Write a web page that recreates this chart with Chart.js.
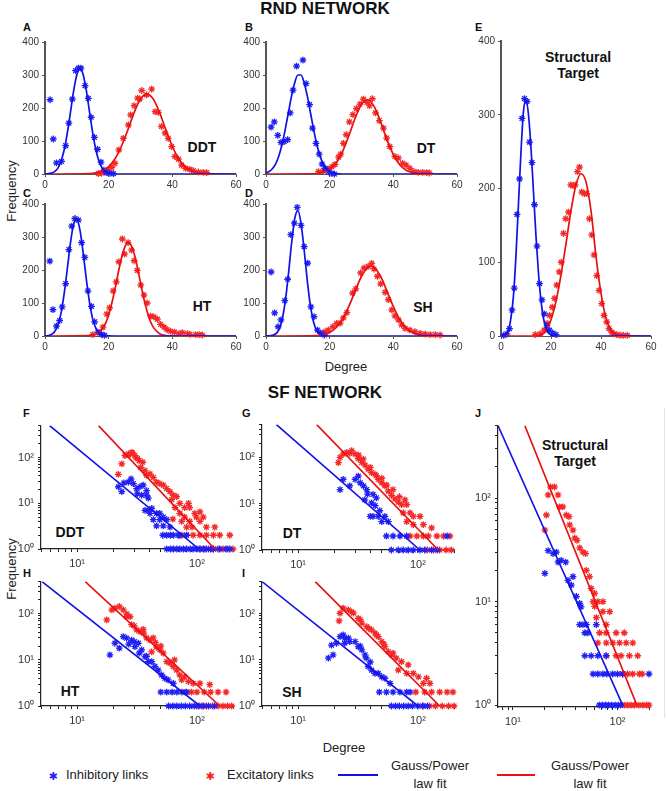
<!DOCTYPE html>
<html>
<head>
<meta charset="utf-8">
<script src="https://cdn.jsdelivr.net/npm/chart.js@4.4.1/dist/chart.umd.min.js"></script>
<style>
  body { margin: 0; background: #fff; width: 666px; height: 791px; position: relative; overflow: hidden;
         font-family: "Liberation Sans", Arial, sans-serif; color: #1a1a1a; }
  canvas { position: absolute; }
  .c { position: absolute; transform: translate(-50%, -50%); white-space: nowrap; }
  .l { position: absolute; transform: translate(0, -50%); white-space: nowrap; }
  .ttl { font-weight: bold; font-size: 17px; color: #111; }
  .let { font-weight: bold; font-size: 11px; color: #111; }
  .tag { font-weight: bold; font-size: 14px; color: #111; text-align: center; line-height: 16px; }
  .ax { font-size: 13px; color: #222; }
  .lg { font-size: 13px; color: #222; text-align: center; line-height: 18px; }
</style>
</head>
<body>
<div class="c ttl" style="left:325px;top:9px">RND NETWORK</div>
<div class="c ttl" style="left:325px;top:393px">SF NETWORK</div>

<div class="l let" style="left:23px;top:27px">A</div>
<div class="l let" style="left:245px;top:27px">B</div>
<div class="l let" style="left:23px;top:193px">C</div>
<div class="l let" style="left:245px;top:193px">D</div>
<div class="l let" style="left:475px;top:27px">E</div>
<div class="l let" style="left:23px;top:413px">F</div>
<div class="l let" style="left:242px;top:413px">G</div>
<div class="l let" style="left:23px;top:573px">H</div>
<div class="l let" style="left:242px;top:573px">I</div>
<div class="l let" style="left:475px;top:413px">J</div>

<div class="c tag" style="left:202px;top:147px">DDT</div>
<div class="c tag" style="left:426px;top:148px">DT</div>
<div class="c tag" style="left:202px;top:306px">HT</div>
<div class="c tag" style="left:423px;top:307px">SH</div>
<div class="c tag" style="left:578px;top:65px">Structural<br>Target</div>
<div class="c tag" style="left:70px;top:532px">DDT</div>
<div class="c tag" style="left:292px;top:533px">DT</div>
<div class="c tag" style="left:70px;top:691px">HT</div>
<div class="c tag" style="left:292px;top:692px">SH</div>
<div class="c tag" style="left:575px;top:453px">Structural<br>Target</div>

<div class="c ax" style="left:11px;top:191px;transform:translate(-50%,-50%) rotate(-90deg)">Frequency</div>
<div class="c ax" style="left:11px;top:569px;transform:translate(-50%,-50%) rotate(-90deg)">Frequency</div>
<div class="c ax" style="left:346px;top:366px">Degree</div>
<div class="c ax" style="left:344px;top:747px">Degree</div>

<div style="position:absolute;left:664px;top:408px;width:1px;height:310px;background:#e2e2e2"></div>

<div class="c" style="left:53px;top:776px;color:#1f1ff5;font-family:'DejaVu Sans';font-size:11px">&#10033;</div>
<div class="l lg" style="left:66px;top:775px">Inhibitory links</div>
<div class="c" style="left:210px;top:776px;color:#f52020;font-family:'DejaVu Sans';font-size:11px">&#10033;</div>
<div class="l lg" style="left:227px;top:775px">Excitatory links</div>
<div style="position:absolute;left:338px;top:774px;width:40px;height:2px;background:#1010e8"></div>
<div class="c lg" style="left:430px;top:775px">Gauss/Power<br>law fit</div>
<div style="position:absolute;left:497px;top:774px;width:38px;height:2px;background:#e81010"></div>
<div class="c lg" style="left:590px;top:775px">Gauss/Power<br>law fit</div>

<script>
// ---- tick values ----
const degTicks = [0, 20, 40, 60];
const freqTicks = [0, 100, 200, 300, 400];
const logTicks = [1, 2, 3, 4, 5, 6, 7, 8, 9, 10, 20, 30, 40, 50, 60, 70, 80, 90, 100, 200, 300, 400, 500];
const decade = { 1: '10\u2070', 10: '10\u00b9', 100: '10\u00b2' };

// ---- RND network: degree histograms [degree, frequency] ----
const aInh = [[1.6,225],[2.6,106],[3.6,34],[5.2,38],[6.5,86],[7.5,154],[8.6,227],[9.6,313],[10.5,321],[11.3,321],[12.6,268],[13.6,229],[14.5,172],[15.5,111],[16.5,75],[17.6,36],[18.5,12],[19.4,4],[20.4,2],[21.5,1]];
const aExc = [[16.8,1],[17.8,3],[18.8,6],[19.9,12],[21,20],[22,32],[23.2,73],[24.6,108],[26.2,149],[26.9,179],[28,207],[29.1,230],[29.8,227],[30.4,253],[31.9,240],[33.5,257],[34.6,189],[35.6,187],[36.6,144],[37.7,124],[38.7,108],[39.8,83],[40.8,53],[41.9,45],[42.9,27],[44.2,17],[45.5,14],[46.6,10],[48.2,6],[49.7,5],[50.8,4]];
const bInh = [[1.6,142],[2.6,158],[3.7,117],[4.7,96],[5.7,98],[6.8,104],[7.6,185],[8.5,254],[9.6,327],[11.6,345],[12.6,274],[13.7,210],[14.6,139],[15.7,93],[16.7,60],[17.6,30],[18.6,17],[19.6,7],[20.5,2],[21.5,0]];
const bExc = [[16.5,7],[18.1,10],[19.6,15],[20.7,22],[21.7,29],[22.8,51],[23.5,60],[24.3,93],[25.2,119],[26.2,158],[27.3,180],[28.4,198],[29.5,212],[30.6,227],[31.7,217],[32.5,207],[33.4,228],[34.4,185],[35.6,162],[36.9,139],[37.9,109],[38.9,83],[40.5,53],[41.6,48],[42.9,32],[44,27],[45.2,17],[46.5,7],[47.8,5],[49.2,5],[50.4,4],[51.3,3]];
const cInh = [[1.5,227],[2.5,80],[3.6,30],[4.6,47],[5.4,88],[6.5,159],[7.5,262],[8.4,333],[9.4,356],[10.5,351],[11.5,283],[12.5,238],[13.5,137],[14.6,90],[15.6,43],[16.6,12],[17.7,5],[18.7,2]];
const cExc = [[15,4],[17,10],[18.2,27],[19.4,66],[20.3,85],[21.4,137],[22.4,164],[23.2,225],[24.3,294],[25,248],[26.1,283],[27.2,260],[28,228],[29,199],[30.1,154],[31.1,124],[32.1,100],[33.2,60],[34.2,58],[35.3,51],[36.3,35],[37.4,27],[38.4,19],[39.5,14],[40.7,12],[42.1,7],[43.1,10],[44.7,7],[45.5,5],[47.3,4],[48.4,4],[49.4,3]];
const dInh = [[1.6,194],[2.7,70],[3.8,28],[4.7,49],[5.9,107],[6.8,172],[7.8,307],[8.9,342],[9.8,390],[11,335],[12,271],[13.1,221],[14.1,88],[15.1,59],[16.2,18],[17.2,8],[18.3,3]];
const dExc = [[17.6,8],[18.6,13],[19.6,18],[21,28],[22.2,38],[23.3,39],[24.3,55],[25.4,71],[27.2,130],[28.2,143],[29.7,191],[30.8,206],[32.1,211],[33.2,220],[33.9,203],[35,181],[36,158],[37.4,132],[38.4,110],[39.5,79],[40.5,61],[41.6,49],[42.6,34],[43.7,23],[45.2,18],[46.8,13],[48.4,8],[50,6],[51.6,4],[53.2,4],[54.7,3]];
const eInh = [[1.1,1],[2.4,3],[3.4,10],[4.4,35],[5.3,65],[6.4,165],[7.4,213],[8.4,295],[9.4,322],[10.4,318],[11.4,263],[12.4,235],[13.4,178],[14.4,122],[15.4,71],[16.4,49],[17.3,30],[18.4,14],[19.4,8],[20.7,4],[22,2]];
const eExc = [[13.7,2],[15.7,3],[17.3,8],[18.4,17],[19.4,28],[20.5,39],[21.4,51],[22.3,69],[23.3,87],[24.1,100],[25,139],[25.9,159],[27,168],[27.9,205],[28.8,204],[29.7,205],[30.6,223],[31.4,229],[32.3,195],[33.4,193],[34.3,193],[35.4,159],[36.3,137],[37.2,110],[38.3,82],[39.2,62],[40.3,44],[41.2,28],[42.3,19],[43.2,10],[44.3,5],[45.2,3],[46.3,2],[47.6,1],[48.9,1],[50.5,1]];

// ---- RND network: Gaussian fit curves ----
const aInhFitX = [0,1,2,3,4,5,6,7,8,9,10,11,12,13,14,15,16,17,18,19,20,21,22,60];
const aInhFitY = [0,0.8,2.6,7,17,38,72,124,187,252,301,320,301,252,187,124,72,38,17,7,2.6,0.8,0,0];
const aExcFitX = [0,14,16,18,20,22,24,26,28,30,32,34,36,38,40,42,44,46,48,50,52,60];
const aExcFitY = [0,1.1,3.5,9.5,22,46,84,133,186,227,242,227,186,133,84,46,22,9.5,3.5,1.1,0.3,0];
const bInhFitX = [0,1,2,3,4,5,6,7,8,9,10,11,12,13,14,15,16,17,18,19,20,21,22,23,24,60];
const bInhFitY = [3.4,7.6,16,30,54,88,133,184,235,276,300,300,276,235,184,133,88,54,30,16,7.6,3.4,1.3,0.5,0,0];
const bExcFitX = [0,14,16,18,20,22,24,26,28,30,32,34,36,38,40,42,44,46,48,50,52,60];
const bExcFitY = [0,0.4,1.5,5,14,33,67,115,169,211,225,204,158,104,59,28,11.5,4,1.2,0.3,0,0];
const cInhFitX = [0,1,2,3,4,5,6,7,8,9,10,11,12,13,14,15,16,17,18,19,20,22,60];
const cInhFitY = [0.4,1.4,4.6,13,32,68,127,203,282,339,354,320,251,171,101,51,23,9,3,1,0.3,0,0];
const cExcFitX = [0,14,16,18,19,20,21,22,23,24,25,26,27,28,29,30,31,32,33,34,36,38,40,42,60];
const cExcFitY = [0,0.9,5,21,38,64,100,143,191,235,268,283,276,250,209,162,116,77,47,27,7,1.3,0.2,0,0];
const dInhFitX = [0,1,2,3,4,5,6,7,8,9,10,11,12,13,14,15,16,17,18,20,60];
const dInhFitY = [0.1,0.4,1.7,6,18,47,101,183,278,354,380,342,259,165,88,40,15,5,1.3,0,0];
const dExcFitX = [0,16,18,20,22,24,26,28,30,32,33,34,36,38,40,42,44,46,48,50,52,54,60];
const dExcFitY = [0,1.2,3.9,10.5,25,50,89,136,181,208,212,208,181,136,89,50,25,10.5,3.9,1.2,0.3,0,0];
const eInhFitX = [0,2,3,4,5,6,7,8,9,10,11,12,13,14,15,16,17,18,19,20,22,60];
const eInhFitY = [0,3,8,25,55,110,180,250,305,320,300,255,195,135,85,48,24,11,4,1.5,0,0];
const eExcFitX = [0,14,16,18,20,22,24,26,28,30,32,34,36,38,40,42,44,46,48,60];
const eExcFitY = [0,0,1.5,7,22,47,83,125,170,205,220,209,170,108,58,24,8,2,0.5,0];

// ---- SF network: degree histograms [degree, frequency] ----
const fInh = [[22.1,23],[23.6,18],[24.6,28],[26.8,29],[28.2,34],[29.5,27],[31.4,21],[31.8,16],[33.5,23],[34.6,15],[35.6,25],[38,19],[38,15],[39.3,13],[36.9,7],[39.3,7],[42,7.7],[40.6,6],[46,6],[49,6],[52.4,5],[43.2,4.4],[49,4.4],[56,4.4],[46,3.2],[52.4,3.2],[59.6,3],
  [52,2],[56,2],[60,2],[63.5,2],[70,2],[72,2],[82,2],
  [56,1],[60,1],[63.5,1],[68,1],[72,1],[77,1],[82,1],[88,1],[93,1],[100,1],[106,1],[113,1],[120,1],[130,1],[137,1],[155,1],[175,1],[188,1]];
const fExc = [[22.1,43],[23.6,73],[25.1,110],[26.8,120],[27,115],[28.6,130],[29,125],[30.4,110],[31,100],[32,95],[33,86],[34,61],[35.3,79],[36.9,52],[38,41],[40.6,44],[43.2,37],[46,29],[49,27],[52.4,25],[55.9,21],[59.6,18],[61.5,12],[63.5,15],[65.6,8],[67.8,14],[72,10],[79,8],[85,10],[87,8],[96,6],[106,6.5],[113,5],[72,6],[79,5],[87,4],[99,5],[74.5,4],[106,4],[141,3],[63,4.5],
  [82,3],[91,3],[120,3],
  [75,2],[82,2],[93,2],[106,2],[120,2],[137,2],[155,2],[188,2],
  [106,1],[115,1],[125,1],[137,1],[150,1],[165,1],[180,1],[200,1]];
const gInh = [[22.4,20],[23.8,33],[27,24],[29.9,33],[31.8,39],[33,28],[35.1,24],[36,12],[37.4,20],[38,16],[41,10.3],[42.2,15.7],[44,9],[45,13.3],[48,7],[40,5.3],[42.2,5.3],[46.7,5.3],[49.9,4.1],[53,5.3],[56.6,4.1],
  [54.6,2],[62,2],[70.8,2],[80.6,2],[175,2],
  [60,1],[68.6,1],[75.4,1],[83,1],[91.5,1],[104,1],[114,1],[130,1],[145,1]];
const gExc = [[21.7,76],[22.4,99],[23.8,116],[25.5,126],[27,120],[28,137],[29.9,116],[31.8,93],[32,110],[34,77],[35,90],[36.2,67],[38.4,55],[40,60],[41,46.5],[43.8,42.7],[45,40],[46.7,33],[49.9,28],[50,35],[53,24],[55,25],[56.6,18.5],[60.3,15],[62,20],[64.4,12.6],[68.6,10.7],[70,14],[73.2,9.5],[78,12],[80.6,9.5],[86,6.3],[75.4,6.3],[91.5,5.3],[104,5.3],[80.6,4.1],[91.5,3.5],[111,3.5],[130,3],
  [86,2],[98,2],[111,2],[122,2],[144,2],[164,2],[185,2],
  [120,1],[135,1],[152,1],[172,1],[190,1]];
const hInh = [[18.8,12.9],[20.7,23],[22.5,18],[24.3,32],[25.9,29.6],[27,22],[28.5,27],[30,25],[30.4,19.4],[32.4,23],[33,14],[34.6,16.5],[36.9,11.8],[38,12],[39.3,9.2],[42,9.2],[44.6,7.2],[47.5,6],[50.8,4.7],[54,4],[57.5,3.7],[63.5,3.1],
  [50,2],[56,2],[62,2],[68,2],[75,2],[82,2],
  [58,1],[63,1],[68,1],[74,1],[80,1],[87,1],[95,1],[104,1],[113,1],[125,1],[140,1]];
const hExc = [[17.7,74],[19.5,122],[20.7,133],[22.5,144],[24.3,122],[25.9,87],[26,100],[27.7,87],[28.5,58],[30,55],[31.4,45],[33.5,41],[35.6,46],[36,38],[38,30],[40.6,27],[43.2,30],[41.9,15],[45,24],[46,19],[49,16.5],[50,20],[52.4,14],[56,9.2],[59.6,8.5],[63.5,7.2],[65,10],[67.8,6],[72,4.7],[79,4.3],[74.6,3.7],[85,3.4],[93,3.1],[106,3.1],[128,2.9],
  [80,2],[90,2],[100,2],[115,2],[130,2],[150,2],[175,2],
  [100,1],[110,1],[120,1],[135,1],[150,1],[165,1],[180,1],[195,1]];
const iInh = [[17.9,10.9],[19.6,12.9],[19,21],[20.9,23],[22.4,32],[23.8,35],[24.5,23],[24.5,29.6],[26.3,29.6],[27,25],[29.9,25],[31.8,19.4],[33,20],[34,16.5],[36.2,12.9],[37,11],[38.4,7.2],[40,9],[41,6],[43.8,5.1],[46.7,5.1],[49.9,4.3],[53,4],[58.6,3.1],
  [47.7,2],[54.6,2],[62,2],[70.8,2],[80.6,2],[86,2],
  [60,1],[65,1],[70,1],[76,1],[83,1],[90,1],[100,1],[110,1],[120,1]];
const iExc = [[22,70],[22.4,103],[23.8,133],[26.3,122],[28,110],[29,104],[31.8,80],[33,75],[34,63],[37.4,53],[39,48],[41,45],[43.8,38],[45,35],[46.7,32],[49.9,25],[52,22],[53,19.4],[56.6,15.2],[60.3,12.9],[62,14],[66,10.9],[73,9.2],[83,7.8],[68.6,6],[80.6,5.1],[91.5,5.1],[101,4.3],[118,4],[126,3.1],[111,3.1],
  [96,2],[114,2],[130,2],[152,2],[175,2],[196,2],
  [110,1],[125,1],[140,1],[160,1],[180,1],[200,1]];
const jInh = [[20.2,18.7],[21.7,31],[24.2,29],[26,30],[27,24],[28.9,25],[32,24],[33.6,16],[37.5,17.4],[36.2,14.4],[40.4,11.2],[43.5,9.6],[44.8,8.9],[43.5,6],[46.7,6],[50.4,6],[48.7,5],[52,5],[62.7,6],[48.7,3],[56,3],[64.8,3],[78,3],
  [58.4,2],[64.8,2],[72.5,2],[79,2],[90,2],[100,2],[112,2],[200,2],
  [67,1],[72,1],[77,1],[82,1],[88,1],[95,1],[102,1],[107,1]];
const jExc = [[20.2,49],[20.9,68.5],[21.7,107],[22.9,128],[25,128],[27,107],[28,82],[30,82],[32.4,68.5],[34.4,66],[34.9,55],[37.5,49],[39,41],[41,39],[43.5,33],[46.7,30],[49.5,29],[50.4,20],[54,17.4],[56,13.4],[60.4,12],[58.4,10],[64.8,10],[72.5,10],[60.4,9],[72.5,8],[84.2,8],[62.7,7],[78,6],[67.4,5],[78,5],[97,5],[116,5],[64.8,4],[78,4],[90.2,4],[104.6,4],[121,4],[140,4],[78,3],[97,3],[108,3],[130,3],[156,3],
  [112,2],[125,2],[140,2],[162,2],[172,2],
  [116,1],[125,1],[135,1],[145,1],[160,1],[175,1],[190,1],[200,1]];

// ---- SF network: power-law fit lines, end points ----
const fInhFit = [[5.9,500],[104,1]],  fExcFit = [[15.1,500],[141,1]];
const gInhFit = [[6.6,500],[104,1]],  gExcFit = [[14.3,500],[148,1]];
const hInhFit = [[5.1,500],[106,1]],  hExcFit = [[11.7,500],[155,1]];
const iInhFit = [[5,500],[100,1]],    iExcFit = [[13.9,500],[152,1]];
const jInhFit = [[7.2,500],[112,1]],  jExcFit = [[13,500],[153,1]];

// ---- drawing ----
Chart.defaults.font.family = '"Liberation Sans", Arial, sans-serif';
Chart.defaults.font.size = 10;
Chart.defaults.color = '#333';

const PT_BLUE = '#2020f5', PT_RED = '#f52828';
const LN_BLUE = '#1010e8', LN_RED = '#e81010';

const setTicks = vals => s => {
  s.ticks = vals.filter(v => v >= s.min - 1e-9 && v <= s.max + 1e-9).map(v => ({ value: v }));
};

function linAxis(vals, bw, pad) {
  return {
    type: 'linear', min: vals[0], max: vals[vals.length - 1],
    afterBuildTicks: setTicks(vals),
    ticks: { autoSkip: false, maxRotation: 0, padding: pad },
    grid: { drawOnChartArea: false, tickLength: 3, color: '#555' },
    border: { color: '#555', width: bw }
  };
}

function logAxis(min, max, pad) {
  return {
    type: 'logarithmic', min: min, max: max,
    afterBuildTicks: setTicks(logTicks),
    ticks: { autoSkip: false, maxRotation: 0, padding: pad, font: { size: 11 }, callback: v => decade[v] || '' },
    grid: { drawOnChartArea: false, tickLength: 3, color: '#222' },
    border: { color: '#222', width: 1.2 }
  };
}

const pts = (d, col) => ({
  data: d.map(p => ({ x: p[0], y: p[1] })), pointStyle: 'star', pointRadius: 3.4,
  borderColor: col, borderWidth: 1.3, showLine: false, clip: false, order: 1
});
const curve = (xs, ys, col) => ({
  data: xs.map((x, i) => ({ x: x, y: ys[i] })), showLine: true, pointRadius: 0,
  borderColor: col, borderWidth: 1.7, cubicInterpolationMode: 'monotone', order: 0
});
const seg = (d, col) => ({
  data: d.map(p => ({ x: p[0], y: p[1] })), showLine: true, pointRadius: 0,
  borderColor: col, borderWidth: 1.6, order: 0
});

function panel(area, xs, ys, sets) {
  const padL = 42, padR = 12, padT = 10, padB = 24;
  const cv = document.createElement('canvas');
  cv.width = area.r - area.l + padL + padR;
  cv.height = area.b - area.t + padT + padB;
  cv.style.left = (area.l - padL) + 'px';
  cv.style.top = (area.t - padT) + 'px';
  document.body.appendChild(cv);
  xs.afterFit = s => { s.height = padB; };
  ys.afterFit = s => { s.width = padL; };
  new Chart(cv, {
    type: 'scatter',
    data: { datasets: sets },
    options: {
      responsive: false, animation: false, events: [],
      layout: { padding: { left: 0, right: padR, top: padT, bottom: 0 } },
      plugins: { legend: { display: false }, tooltip: { enabled: false } },
      scales: { x: xs, y: ys }
    }
  });
}

function rnd(area, inh, exc, ifx, ify, efx, efy) {
  panel(area, linAxis(degTicks, 1, 2), linAxis(freqTicks, 2, 3), [
    curve(ifx, ify, LN_BLUE), curve(efx, efy, LN_RED), pts(inh, PT_BLUE), pts(exc, PT_RED)
  ]);
}
function sf(area, xmin, ymin, inh, exc, ifit, efit) {
  panel(area, logAxis(xmin, 200, 5), logAxis(ymin, 500, 4), [
    seg(ifit, LN_BLUE), seg(efit, LN_RED), pts(inh, PT_BLUE), pts(exc, PT_RED)
  ]);
}

rnd({ l: 45, t: 42, r: 236, b: 174 }, aInh, aExc, aInhFitX, aInhFitY, aExcFitX, aExcFitY);
rnd({ l: 266, t: 42, r: 457, b: 174 }, bInh, bExc, bInhFitX, bInhFitY, bExcFitX, bExcFitY);
rnd({ l: 45, t: 204, r: 236, b: 336 }, cInh, cExc, cInhFitX, cInhFitY, cExcFitX, cExcFitY);
rnd({ l: 266, t: 204, r: 457, b: 336 }, dInh, dExc, dInhFitX, dInhFitY, dExcFitX, dExcFitY);
rnd({ l: 501, t: 41, r: 651, b: 336 }, eInh, eExc, eInhFitX, eInhFitY, eExcFitX, eExcFitY);

sf({ l: 41, t: 425, r: 233, b: 549 }, 5, 1, fInh, fExc, fInhFit, fExcFit);
sf({ l: 262, t: 424, r: 454, b: 550 }, 5, 1, gInh, gExc, gInhFit, gExcFit);
sf({ l: 41, t: 581, r: 233, b: 706 }, 5, 1, hInh, hExc, hInhFit, hExcFit);
sf({ l: 262, t: 581, r: 454, b: 706 }, 5, 1, iInh, iExc, iInhFit, iExcFit);
sf({ l: 498, t: 425, r: 649, b: 707 }, 7.2, 0.96, jInh, jExc, jInhFit, jExcFit);
</script>
</body>
</html>
